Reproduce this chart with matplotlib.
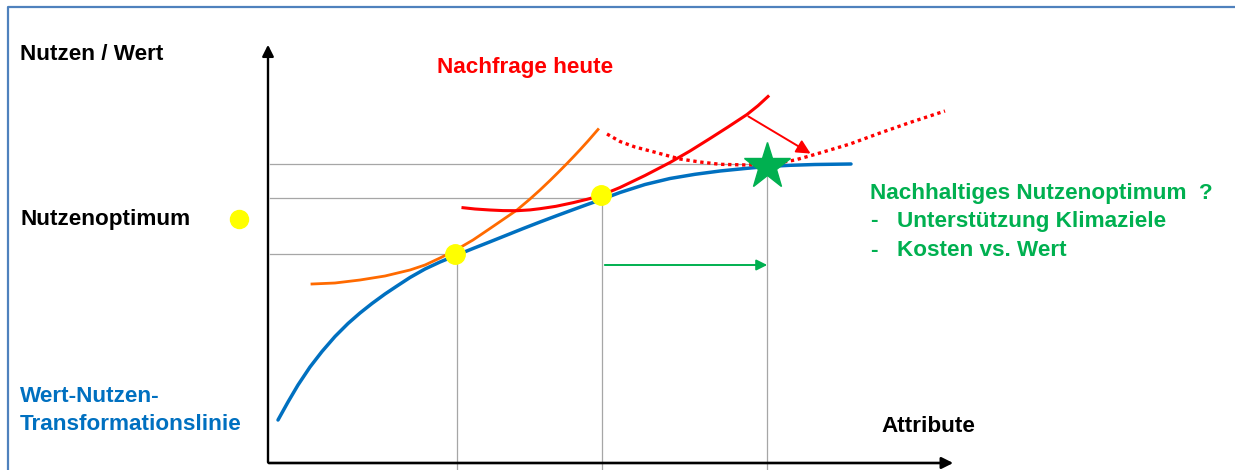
import matplotlib
matplotlib.use("Agg")
import matplotlib.pyplot as plt

plt.rcParams['font.family'] = ['Liberation Sans', 'DejaVu Sans']

# Conceptual diagram: coordinates in picture units (x right, y down)
blue_x = [278, 288, 298, 310, 322, 335, 348, 360, 372, 385, 397, 410, 425, 440, 455,
          473, 490, 507, 523, 540, 557, 573, 587, 600, 620, 645, 670, 695, 720, 745,
          767, 790, 815, 851]
blue_y = [420, 402, 385, 367, 351.5, 336.5, 323.5, 313, 303.5, 294, 286, 277.5, 269, 262, 255.8,
          248.5, 241.8, 235, 228.6, 222, 215.6, 209.7, 204.6, 200, 192.5, 184.5, 178.5, 174.3, 171, 168.5,
          166.5, 165.3, 164.5, 164]

orange_x = [312, 335, 360, 385, 410, 425, 440, 455, 473, 490, 503, 517, 530, 540, 550,
            558, 567, 574, 580, 588, 598]
orange_y = [284, 283, 280, 276, 270, 265, 258, 250.5, 240, 228.5, 219.6, 210, 199, 190, 180.5,
            172.6, 163.5, 156.2, 149.8, 141, 129.5]

red_x = [463, 475, 490, 503, 517, 530, 540, 556, 573, 587, 600, 620, 645, 670, 690,
         710, 728, 747, 758, 768]
red_y = [207.7, 209, 210, 210.6, 210.7, 209.9, 208.7, 206.3, 202.7, 199.3, 195.8, 187.5, 175.5, 162.5, 151,
         138.5, 127, 114.5, 105.7, 96.5]

reddot_x = [607, 620, 635, 653, 680, 700, 720, 747, 775, 795, 813, 850, 880, 910, 945]
reddot_y = [134, 141.5, 147, 151.7, 159, 162, 164.3, 165, 163.5, 160, 155, 144, 133, 122.5, 111]

opt_x = [455, 601]
opt_y = [254, 195]
star_x, star_y = 767, 166

hlines_y = [164, 198, 254]
hlines_xend = [767, 602, 455]
vlines_x = [457, 602, 767]
vlines_ytop = [254, 195, 165]

fig = plt.figure(figsize=(12.35, 4.70), dpi=100)
ax = fig.add_axes([0, 0, 1, 1])
ax.set_xlim(0, 1235)
ax.set_ylim(470, 0)
ax.axis('off')

# frame
ax.plot([8, 8, 1235], [470, 7, 7], color='#4F81BD', lw=1.6, solid_capstyle='butt')

# grid guide lines
gray = '#A6A6A6'
for y, xe in zip(hlines_y, hlines_xend):
    ax.plot([270, xe], [y, y], color=gray, lw=0.9, zorder=1)
for x, yt in zip(vlines_x, vlines_ytop):
    ax.plot([x, x], [yt, 470], color=gray, lw=0.9, zorder=1)

# axes arrows
ax.annotate('', xy=(268, 42), xytext=(268, 465),
            arrowprops=dict(arrowstyle='-|>', color='black', lw=1.7, mutation_scale=17))
ax.annotate('', xy=(956, 463), xytext=(266, 463),
            arrowprops=dict(arrowstyle='-|>', color='black', lw=1.9, mutation_scale=17))

# curves
ax.plot(blue_x, blue_y, color='#0070C0', lw=2.5, zorder=3, solid_capstyle='round',
        solid_joinstyle='round')
ax.plot(orange_x, orange_y, color='#FF6A00', lw=2.0, zorder=3, solid_joinstyle='round')
ax.plot(red_x, red_y, color='#FF0000', lw=2.2, zorder=3, solid_joinstyle='round')
ax.plot(reddot_x, reddot_y, color='#FF0000', lw=2.4, linestyle=(0, (1, 1.1)), zorder=3)

# arrows
ax.annotate('', xy=(813, 155), xytext=(746, 115),
            arrowprops=dict(arrowstyle='-|>', color='#FF0000', lw=1.4, mutation_scale=21))
ax.annotate('', xy=(770, 265), xytext=(602, 265),
            arrowprops=dict(arrowstyle='-|>', color='#00B050', lw=1.4, mutation_scale=16))

# points
ax.plot(opt_x, opt_y, 'o', color='#FFFF00', ms=14, zorder=5)
ax.plot([239], [219], 'o', color='#FFFF00', ms=13, zorder=5)
ax.plot([star_x], [star_y], '*', color='#00B050', ms=35, mec='#00B050', zorder=6)

# texts
fs = 16.2
ax.text(20, 54, 'Nutzen / Wert', fontsize=fs, fontweight='bold', color='black', va='center')
ax.text(20, 220, 'Nutzenoptimum', fontsize=fs, fontweight='bold', color='black', va='center')
ax.text(20, 396, 'Wert-Nutzen-', fontsize=fs, fontweight='bold', color='#0070C0', va='center')
ax.text(20, 425, 'Transformationslinie', fontsize=fs, fontweight='bold', color='#0070C0', va='center')
ax.text(437, 68, 'Nachfrage heute', fontsize=fs, fontweight='bold', color='#FF0000', va='center')
ax.text(881, 426, 'Attribute', fontsize=fs, fontweight='bold', color='black', va='center')
g = '#00B050'
ax.text(870, 193, 'Nachhaltiges Nutzenoptimum  ?', fontsize=fs, fontweight='bold', color=g, va='center')
ax.text(870, 221, '-', fontsize=fs, fontweight='bold', color=g, va='center')
ax.text(897, 221, 'Unterstützung Klimaziele', fontsize=fs, fontweight='bold', color=g, va='center')
ax.text(870, 250, '-', fontsize=fs, fontweight='bold', color=g, va='center')
ax.text(897, 250, 'Kosten vs. Wert', fontsize=fs, fontweight='bold', color=g, va='center')

fig.savefig('out.png', dpi=100)
